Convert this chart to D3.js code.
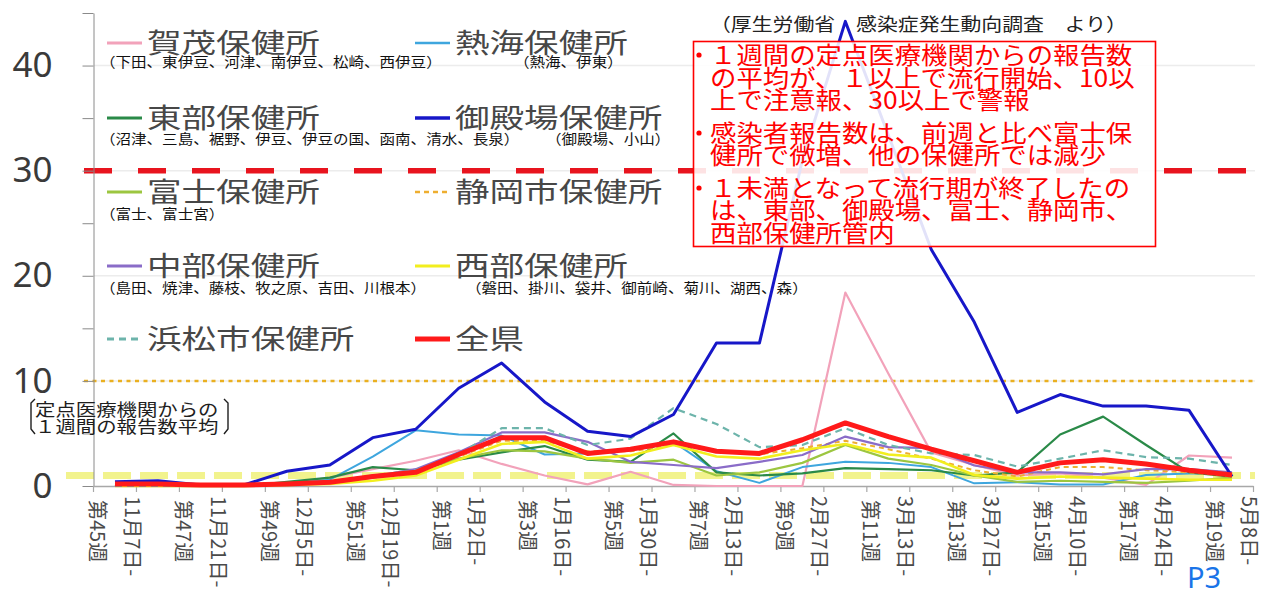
<!DOCTYPE html>
<html>
<head>
<meta charset="utf-8">
<script src="https://cdnjs.cloudflare.com/ajax/libs/d3/7.8.5/d3.min.js"></script>
<style>
  body { margin: 0; background: #fff; }
  svg { display: block; font-family: "Noto Sans CJK JP", "Noto Sans", sans-serif; }
</style>
</head>
<body>
<div class="chart"></div>
<script>
// ---- data ----
var weeks = ["第45週", "第46週", "第47週", "第48週", "第49週", "第50週", "第51週", "第52週",
  "第1週", "第2週", "第3週", "第4週", "第5週", "第6週", "第7週", "第8週", "第9週", "第10週",
  "第11週", "第12週", "第13週", "第14週", "第15週", "第16週", "第17週", "第18週", "第19週"];

// labelled categories (every other week), shown as two rotated lines
var labelWeeks = ["第45週", "第47週", "第49週", "第51週", "第1週", "第3週", "第5週",
  "第7週", "第9週", "第11週", "第13週", "第15週", "第17週", "第19週"];
var labelDates = ["11月7日-", "11月21日-", "12月5日-", "12月19日-", "1月2日-", "1月16日-", "1月30日-",
  "2月13日-", "2月27日-", "3月13日-", "3月27日-", "4月10日-", "4月24日-", "5月8日-"];

var kamo = [0, 0, 0, 0, 0.2, 0.8, 1.6, 2.4, 3.4, 2.1, 1.0, 0.15, 1.35, 0.1, 0, 0, 0, 18.4, 10.7, 3.2, 2.0, 1.0, 1.2, 0.8, 0.1, 2.9, 2.7];
var atami = [0, 0, 0, 0, 0.2, 0.6, 2.8, 5.3, 4.9, 4.8, 3.0, 3.1, 3.4, 4.2, 1.4, 0.3, 1.8, 2.3, 2.2, 1.8, 0.25, 0.35, 0.15, 0.15, 1.05, 1.2, 1.2];
var toubu = [0, 0, 0, 0, 0.4, 0.8, 1.8, 1.5, 2.5, 3.2, 3.8, 2.5, 2.3, 5.0, 1.3, 1.0, 1.2, 1.7, 1.6, 1.5, 1.0, 1.3, 4.9, 6.6, 3.9, 1.3, 0.9];
var gotemba = [0.4, 0.5, 0.1, 0.1, 1.4, 2.0, 4.6, 5.4, 9.3, 11.7, 8.0, 5.2, 4.7, 6.8, 13.6, 13.6, 31.0, 44.2, 33.4, 22.5, 15.6, 7.0, 8.7, 7.6, 7.6, 7.2, 0.9];
var fuji = [0, 0, 0, 0, 0.2, 0.4, 0.8, 1.5, 2.6, 3.4, 3.3, 2.6, 2.2, 2.5, 1.0, 1.3, 2.2, 3.9, 2.6, 2.0, 1.0, 0.4, 0.5, 0.4, 0.3, 0.5, 0.8];
var shizuokaShi = [0, 0, 0, 0, 0.1, 0.3, 0.8, 1.4, 2.8, 4.3, 4.3, 3.3, 3.3, 3.9, 3.4, 3.0, 3.6, 4.3, 3.5, 2.6, 1.5, 0.9, 1.8, 1.8, 1.5, 1.3, 0.9];
var chubu = [0, 0, 0, 0, 0.1, 0.3, 0.9, 1.6, 3.2, 5.1, 5.1, 4.2, 2.3, 2.0, 1.7, 2.3, 2.95, 4.7, 3.7, 3.6, 1.95, 1.3, 1.3, 1.1, 1.6, 1.6, 1.3];
var seibu = [0, 0, 0, 0, 0.1, 0.2, 0.5, 1.0, 2.5, 4.0, 4.2, 2.6, 2.9, 3.9, 2.8, 2.6, 3.4, 4.0, 3.0, 2.7, 1.05, 0.7, 0.9, 0.8, 0.7, 0.6, 0.6];
var hamamatsu = [0, 0, 0, 0, 0.2, 0.4, 1.0, 1.5, 3.0, 5.5, 5.5, 3.9, 4.5, 7.4, 5.9, 3.7, 3.9, 5.5, 3.9, 3.1, 2.95, 1.85, 2.6, 3.4, 2.75, 2.6, 2.0];
var zenken = [0.2, 0.2, 0.1, 0.1, 0.2, 0.35, 0.9, 1.3, 3.0, 4.6, 4.6, 3.1, 3.5, 4.2, 3.3, 3.1, 4.4, 6.0, 4.7, 3.5, 2.4, 1.3, 2.2, 2.5, 2.1, 1.5, 1.05];

var seriesNames = ["賀茂保健所", "熱海保健所", "東部保健所", "御殿場保健所", "富士保健所",
  "静岡市保健所", "中部保健所", "西部保健所", "浜松市保健所", "全県"];
var subLabels = ["（下田、東伊豆、河津、南伊豆、松崎、西伊豆）", "（熱海、伊東）",
  "（沼津、三島、裾野、伊豆、伊豆の国、函南、清水、長泉）", "（御殿場、小山）",
  "（富士、富士宮）", "", "（島田、焼津、藤枝、牧之原、吉田、川根本）",
  "（磐田、掛川、袋井、御前崎、菊川、湖西、森）", "", ""];

var yTicks = [0, 5, 10, 15, 20, 25, 30, 35, 40, 45];
var threshold = [30, 10, 1];   // 警報, 注意報, 流行開始

var noteLines = ["１週間の定点医療機関からの報告数", "の平均が、１以上で流行開始、10以", "上で注意報、30以上で警報",
  "感染者報告数は、前週と比べ富士保", "健所で微増、他の保健所では減少",
  "１未満となって流行期が終了したの", "は、東部、御殿場、富士、静岡市、", "西部保健所管内"];

// ---- styles ----
var style = {
  "賀茂保健所": { color: "#f2a2ba", width: 2.2 },
  "熱海保健所": { color: "#3ea6de", width: 2 },
  "東部保健所": { color: "#2a8a48", width: 2.2 },
  "御殿場保健所": { color: "#1717c8", width: 3 },
  "富士保健所": { color: "#9cc640", width: 2.2 },
  "静岡市保健所": { color: "#eeae30", width: 2, dash: "5,4" },
  "中部保健所": { color: "#8a6cc8", width: 2.2 },
  "西部保健所": { color: "#f2ee1e", width: 2.6 },
  "浜松市保健所": { color: "#6db4ab", width: 2.2, dash: "7,5" },
  "全県": { color: "#ff1a1a", width: 5 }
};
var seriesData = [kamo, atami, toubu, gotemba, fuji, shizuokaShi, chubu, seibu, hamamatsu, zenken];

var svg = d3.select(".chart").append("svg")
  .attr("width", 1265)
  .attr("height", 593);

// helper: text that is stretched horizontally like the source picture
function stretchText(parent, x, y, str, size, sx) {
  return parent.append("text")
    .attr("transform", `translate(${x},${y}) scale(${sx},1)`)
    .attr("font-size", size)
    .text(str);
}

// ---- scales ----
var xBand = d3.scaleBand().domain(weeks).range([93.5, 1253.5]).padding(0);
var xc = d => xBand(d) + xBand.bandwidth() / 2;
var y = d3.scaleLinear().domain([0, 45]).range([486, 13]);

// faint gridlines
svg.append("g").selectAll("line")
  .data([10, 20, 30, 40])
  .enter().append("line")
  .attr("x1", 94).attr("x2", 1255)
  .attr("y1", d => y(d)).attr("y2", d => y(d))
  .attr("stroke", "#ececec").attr("stroke-width", 1.5);

// threshold lines
svg.append("line")
  .attr("x1", 84).attr("x2", 1262)
  .attr("y1", y(threshold[0])).attr("y2", y(threshold[0]))
  .attr("stroke", "#e8141e").attr("stroke-width", 5.5).attr("stroke-dasharray", "28,26");
svg.append("line")
  .attr("x1", 84).attr("x2", 1255)
  .attr("y1", y(threshold[1])).attr("y2", y(threshold[1]))
  .attr("stroke", "#eab020").attr("stroke-width", 2.5).attr("stroke-dasharray", "4,4.5");
svg.append("line")
  .attr("x1", 66).attr("x2", 1255)
  .attr("y1", y(threshold[2])).attr("y2", y(threshold[2]))
  .attr("stroke", "#f0f27a").attr("stroke-width", 7).attr("stroke-dasharray", "28,9")
  .attr("opacity", 0.85);

// ---- axes ----
var leftAxis = d3.axisLeft(y)
  .tickValues(yTicks)
  .tickSize(11)
  .tickSizeOuter(0)
  .tickPadding(30)
  .tickFormat(d => d % 10 === 0 ? d : "");
var yAxis = svg.append("g")
  .attr("transform", "translate(93.5,0)")
  .call(leftAxis);
yAxis.select(".domain").attr("stroke", "#8a8a8a");
yAxis.selectAll(".tick line").attr("stroke", "#8a8a8a");
yAxis.selectAll(".tick text")
  .attr("font-family", "'Noto Sans', sans-serif")
  .attr("font-size", 35)
  .attr("fill", "#3a3a3a");

// x axis line and ticks at category boundaries
svg.append("line")
  .attr("x1", 93.5).attr("x2", 1253.5)
  .attr("y1", 486.5).attr("y2", 486.5)
  .attr("stroke", "#a8a8a8").attr("stroke-width", 1.5);
svg.append("g").selectAll("line")
  .data(weeks.concat(["end"]))
  .enter().append("line")
  .attr("x1", (d, i) => i < weeks.length ? xBand(d) : xBand.range()[1])
  .attr("x2", (d, i) => i < weeks.length ? xBand(d) : xBand.range()[1])
  .attr("y1", 486).attr("y2", 492)
  .attr("stroke", "#a8a8a8").attr("stroke-width", 1.2);

// rotated two-line category labels
var xLabels = svg.append("g").attr("fill", "#4a4a4a").attr("font-size", 20);
labelWeeks.forEach(function (w, i) {
  var cx = xc(w);
  xLabels.append("text")
    .attr("transform", `translate(${cx - 18},500) rotate(90)`)
    .attr("dy", "0.35em")
    .text(w);
  xLabels.append("text")
    .attr("transform", `translate(${cx + 17},496) rotate(90)`)
    .attr("dy", "0.35em")
    .text(labelDates[i]);
});

// ---- data lines ----
var line = d3.line()
  .x((d, i) => xc(weeks[i]))
  .y(d => y(d));

var drawOrder = [0, 1, 2, 4, 5, 6, 7, 8, 3, 9];
drawOrder.forEach(function (k) {
  var s = style[seriesNames[k]];
  svg.append("path")
    .datum(seriesData[k])
    .attr("d", line)
    .attr("fill", "none")
    .attr("stroke", s.color)
    .attr("stroke-width", s.width)
    .attr("stroke-dasharray", s.dash || null)
    .attr("stroke-linejoin", "round");
});

// ---- legend ----
var legend = svg.append("g");
var legendCols = [{ lx: 107, tx: 147 }, { lx: 415, tx: 455 }];
var legendRows = [43, 118, 192, 266, 339];
var subPos = [[100, 67], [514, 67], [100, 144], [546, 144], [100, 219], null, [100, 293], [466, 293], null, null];

seriesNames.forEach(function (name, k) {
  var col = legendCols[k % 2];
  var ry = legendRows[Math.floor(k / 2)];
  var s = style[name];
  legend.append("line")
    .attr("x1", col.lx).attr("x2", col.lx + 35)
    .attr("y1", ry).attr("y2", ry)
    .attr("stroke", s.color)
    .attr("stroke-width", Math.min(s.width + 0.6, 5))
    .attr("stroke-dasharray", s.dash || null);
  stretchText(legend, col.tx, ry + 10, name, 27, 1.28).attr("fill", "#474747");
  if (subPos[k]) {
    stretchText(legend, subPos[k][0], subPos[k][1], subLabels[k], 14, 1.11).attr("fill", "#111");
  }
});

// ---- y axis caption ----
var cap = svg.append("g").attr("fill", "#1e1e1e");
stretchText(cap, 35, 416, "定点医療機関からの", 17, 1.2);
stretchText(cap, 35, 433, "１週間の報告数平均", 17, 1.2);
cap.append("path").attr("d", "M35,399 L31,403 L31,429 L35,434")
  .attr("fill", "none").attr("stroke", "#1e1e1e").attr("stroke-width", 1.4);
cap.append("path").attr("d", "M224,399 L228,403 L228,429 L224,434")
  .attr("fill", "none").attr("stroke", "#1e1e1e").attr("stroke-width", 1.4);

// ---- source + note box ----
stretchText(svg, 710, 31, "（厚生労働省　感染症発生動向調査　より）", 18, 1.16).attr("fill", "#222");

svg.append("rect")
  .attr("x", 693.5).attr("y", 41.5)
  .attr("width", 462).attr("height", 205)
  .attr("fill", "#fff").attr("fill-opacity", 0.88)
  .attr("stroke", "#ff0000").attr("stroke-width", 1.6);

var note = svg.append("g").attr("fill", "#ff0000");
var noteY = [64, 87, 109, 142, 164, 197, 219, 242];
noteLines.forEach(function (t, i) {
  stretchText(note, 710, noteY[i], t, 24, 1.1);
});
[55, 133, 188].forEach(function (by) {
  note.append("circle").attr("cx", 699).attr("cy", by).attr("r", 2.6);
});

// page number
svg.append("text")
  .attr("x", 1187).attr("y", 588)
  .attr("font-family", "'Noto Sans', sans-serif")
  .attr("font-size", 29)
  .attr("fill", "#1a74e8")
  .text("P3");
</script>
</body>
</html>
